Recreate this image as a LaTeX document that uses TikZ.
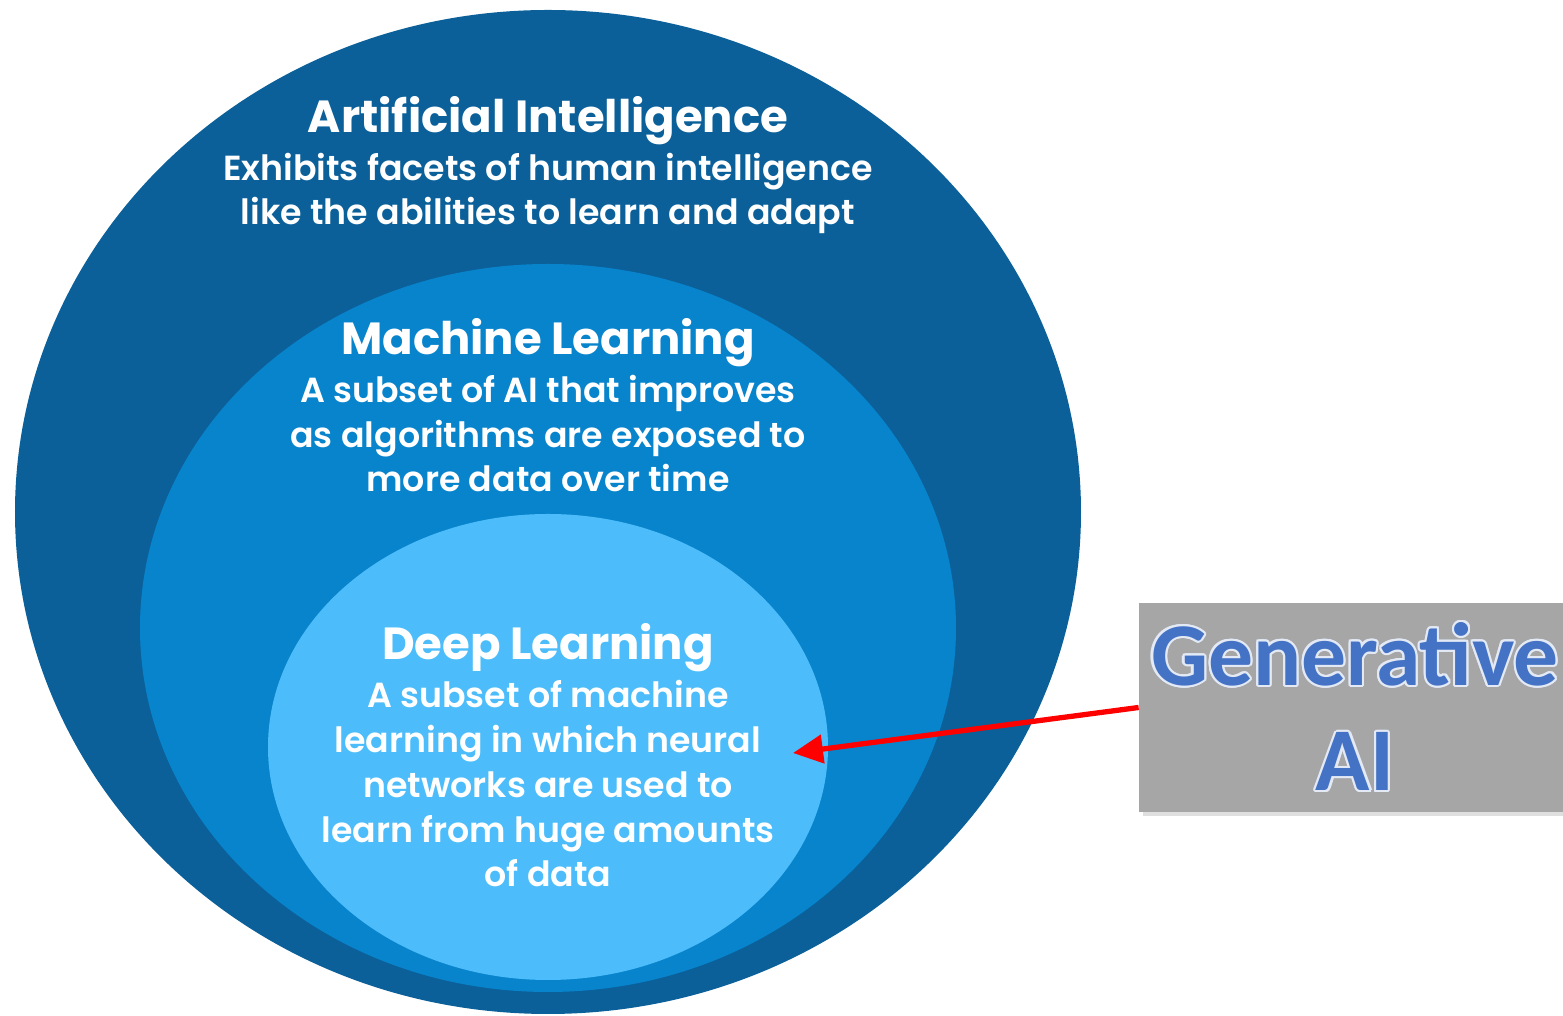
\documentclass[tikz,border=0pt]{standalone}
\usepackage{fontspec}
\setmainfont{Poppins}[UprightFont={* SemiBold}, BoldFont={* Bold}]
\newfontfamily\calfont{Carlito}
\usepackage{xcolor}
\usepackage{tikz}
\usepackage{contour}
\usetikzlibrary{arrows.meta, shapes.geometric, shadows}

\definecolor{aiblue}{HTML}{0B6099}
\definecolor{mlblue}{HTML}{0884CC}
\definecolor{dlblue}{HTML}{4CBDFA}
\definecolor{boxgray}{HTML}{A6A6A6}
\definecolor{genblue}{HTML}{4472C4}
\contourlength{0.6pt}

\begin{document}
\begin{tikzpicture}[
				ring/.style={ellipse, inner sep=0pt},
				title/.style={anchor=base, text=white, font=\bfseries\fontsize{12.8}{15}\selectfont},
				desc/.style={anchor=base, text=white, align=center, font=\fontsize{9.9}{12.8}\selectfont},
				redarrow/.style={-{Triangle[length=3mm, width=2.8mm]}, red, line width=1.5pt}]
				\useasboundingbox (0,0) rectangle (15.63,10.16);
				% the three sets
				\node at (5.48,5.04) (ai) [ring, fill=aiblue, minimum width=10.66cm, minimum height=10.04cm] {};
				\node at (5.48,3.88) (ml) [ring, fill=mlblue, minimum width=8.16cm, minimum height=7.28cm] {};
				\node at (5.48,2.69) (dl) [ring, fill=dlblue, minimum width=5.60cm, minimum height=4.66cm] {};
				% texts, desc nodes sit on their last line
				\node at (5.48,8.83) (aititle) [title] {Artificial Intelligence};
				\node at (5.48,7.91) (aidesc) [desc] {Exhibits facets of human intelligence\\like the abilities to learn and adapt};
				\node at (5.48,6.61) (mltitle) [title] {Machine Learning};
				\node at (5.48,5.24) (mldesc) [desc] {A subset of AI that improves\\as algorithms are exposed to\\more data over time};
				\node at (5.48,3.56) (dltitle) [title] {Deep Learning};
				\node at (5.48,1.29) (dldesc) [desc] {A subset of machine\\learning in which neural\\networks are used to\\learn from huge amounts\\of data};
				% the label box
				\node at (13.55,3.085) (genai) [fill=boxgray, minimum width=4.24cm, minimum height=2.09cm, align=center,
					drop shadow={shadow xshift=0.04cm, shadow yshift=-0.04cm, opacity=0.25},
					font=\calfont\bfseries\fontsize{25.5}{30}\selectfont]
					{\contour{white!85!genblue}{\textcolor{genblue}{Generative}}\\\contour{white!85!genblue}{\textcolor{genblue}{AI}}};
				\coordinate (tip) at (7.93,2.63);
				\draw[redarrow] (genai.west) -- (tip);
			\end{tikzpicture}
\end{document}
